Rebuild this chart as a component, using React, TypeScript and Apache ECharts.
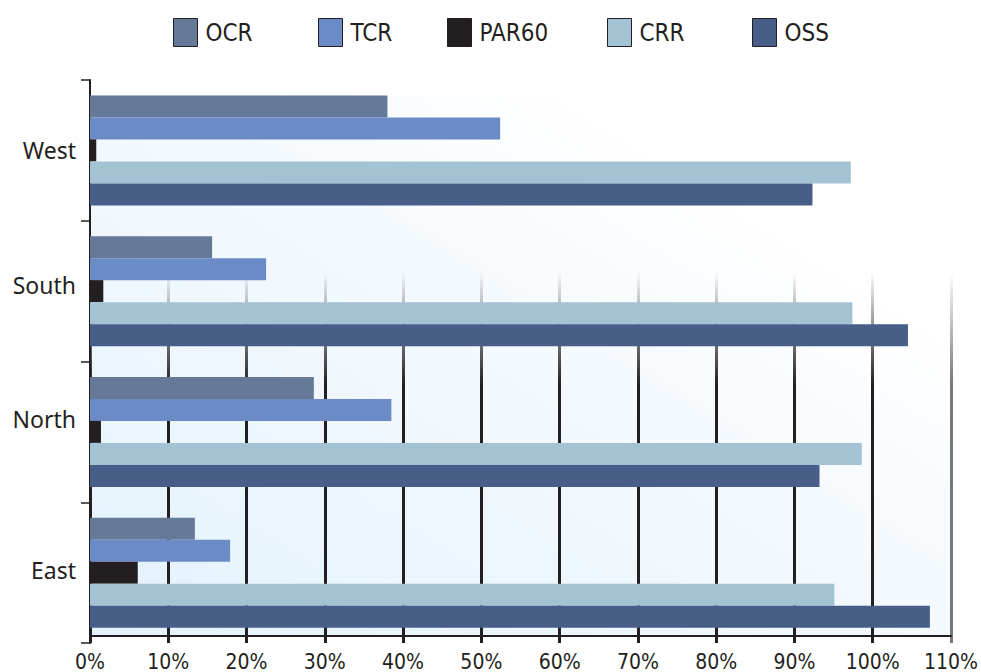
import React, { useEffect, useRef } from "react";
import * as echarts from "echarts";

const categories = ["East", "North", "South", "West"];
const seriesNames = ["OCR", "TCR", "PAR60", "CRR", "OSS"];
const ocr = [13.4, 28.6, 15.6, 38.0];
const tcr = [17.9, 38.5, 22.5, 52.4];
const par60 = [6.1, 1.4, 1.7, 0.8];
const crr = [95.1, 98.6, 97.4, 97.2];
const oss = [107.3, 93.2, 104.5, 92.3];
const seriesValues = [ocr, tcr, par60, crr, oss];
const seriesColors = ["#657a98", "#6b8bc7", "#231f20", "#a3c2d3", "#465e88"];
const legendLefts = [173, 318, 447, 607, 752];
// vertical label nudges (px upward) per category
const labelLift: Record<string, number> = { East: 3, North: 13, South: 6, West: 0 };

const narrow = "'Liberation Sans Narrow', 'DejaVu Sans Condensed', sans-serif";

export default function App() {
  const ref = useRef<HTMLDivElement>(null);
  useEffect(() => {
    if (!ref.current) return;
    const chart = echarts.init(ref.current, undefined, { renderer: "svg" });
    const darkLine = {
      type: "linear", x: 0, y: 272, x2: 0, y2: 385, global: true,
      colorStops: [
        { offset: 0, color: "rgba(35,31,32,0)" },
        { offset: 1, color: "rgba(35,31,32,1)" },
      ],
    };
    const grayLine = {
      type: "linear", x: 0, y: 272, x2: 0, y2: 385, global: true,
      colorStops: [
        { offset: 0, color: "rgba(119,119,119,0)" },
        { offset: 1, color: "rgba(119,119,119,1)" },
      ],
    };
    const lineColors = [darkLine, darkLine, darkLine, darkLine, darkLine, darkLine, darkLine, darkLine, darkLine, darkLine, darkLine, grayLine];
    const rich: Record<string, any> = {};
    categories.forEach((c) => {
      rich[c] = {
        fontFamily: "'Noto Sans', sans-serif",
        fontSize: 23,
        color: "#231f20",
        padding: [0, 0, labelLift[c] * 2, 0],
      };
    });
    chart.setOption({
      animation: false,
      backgroundColor: "#ffffff",
      graphic: {
        elements: [
          {
            type: "rect",
            z: -10,
            silent: true,
            shape: { x: 90, y: 95, width: 862, height: 542 },
            style: {
              fill: new echarts.graphic.LinearGradient(0, 1, 1, 0, [
                { offset: 0, color: "#e3f2fc" },
                { offset: 0.55, color: "#f5fafe" },
                { offset: 0.78, color: "#ffffff" },
              ]),
            },
          },
        ],
      },
      legend: seriesNames.map((n, i) => ({
        data: [n],
        left: legendLefts[i],
        top: 18,
        padding: 0,
        itemWidth: 24,
        itemHeight: 28,
        itemGap: 12,
        icon: "rect",
        itemStyle: { borderColor: "#231f20", borderWidth: 1 },
        textStyle: { fontFamily: narrow, fontSize: 24, color: "#231f20", padding: [0, 0, 0, 3] },
        selectedMode: false,
      })),
      grid: { left: 90, right: 29, top: 80, bottom: 28, containLabel: false },
      xAxis: {
        type: "value",
        min: 0,
        max: 110,
        interval: 10,
        offset: -7,
        axisLine: { show: true, lineStyle: { color: "#231f20", width: 2 } },
        axisTick: { show: false },
        axisLabel: {
          formatter: "{value}%",
          fontFamily: narrow,
          fontSize: 21,
          color: "#231f20",
          margin: 15,
        },
        splitLine: { show: true, lineStyle: { color: lineColors, width: 3 } },
      },
      yAxis: {
        type: "category",
        data: categories,
        axisLine: { show: true, lineStyle: { color: "#231f20", width: 2 } },
        axisTick: { show: true, length: 9, lineStyle: { color: "#231f20", width: 1.5 } },
        axisLabel: {
          margin: 14,
          formatter: (v: string) => `{${v}|${v}}`,
          rich,
        },
        splitLine: { show: false },
      },
      series: seriesNames.map((n, i) => ({
        name: n,
        type: "bar",
        data: seriesValues[i],
        barWidth: 22,
        barGap: "0%",
        itemStyle: { color: seriesColors[i] },
      })),
    });
    return () => chart.dispose();
  }, []);
  return <div ref={ref} style={{ width: 981, height: 672, position: "absolute", left: 0, top: 0 }} />;
}
